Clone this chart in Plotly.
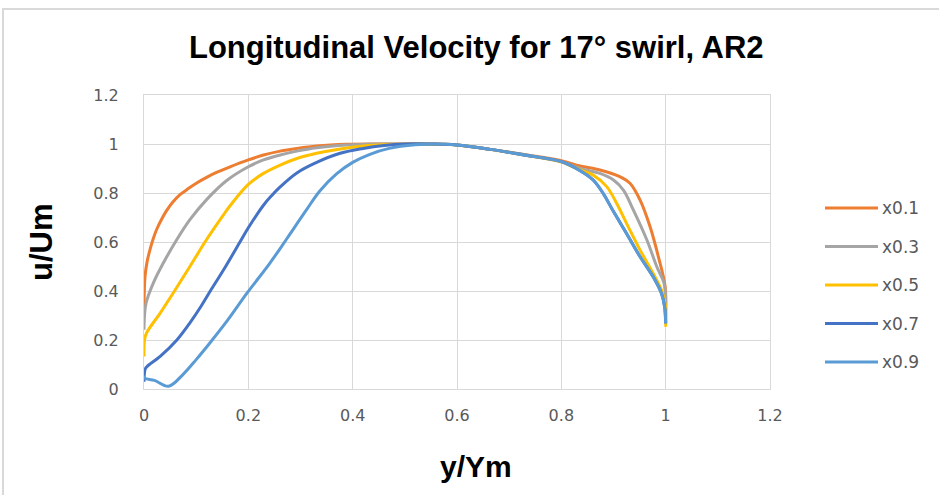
import plotly.graph_objects as go

# Velocity profiles across the duct at several stations
series_names = ["x0.1", "x0.3", "x0.5", "x0.7", "x0.9"]
series_colors = ["#ED7D31", "#A5A5A5", "#FFC000", "#4472C4", "#5B9BD5"]

x01_y = [0, 0.002, 0.006, 0.0115, 0.018, 0.024, 0.033, 0.043, 0.055, 0.069, 0.085,
         0.101, 0.12, 0.139, 0.165, 0.2, 0.229, 0.261, 0.293, 0.331, 0.389, 0.45, 0.5,
         0.55, 0.6, 0.664, 0.728, 0.8, 0.836, 0.874, 0.912, 0.932, 0.951, 0.97, 0.986,
         0.999, 1.0]
x01_u = [0.337, 0.46, 0.52, 0.569, 0.615, 0.65, 0.69, 0.727, 0.762, 0.793, 0.818,
         0.841, 0.864, 0.884, 0.907, 0.935, 0.955, 0.971, 0.982, 0.992, 0.999, 1.0, 1.0,
         1.0, 0.996, 0.978, 0.957, 0.932, 0.91, 0.894, 0.867, 0.839, 0.771, 0.663, 0.54,
         0.418, 0.32]

x03_y = [0, 0.001, 0.004, 0.018, 0.037, 0.063, 0.088, 0.12, 0.158, 0.2, 0.229, 0.261,
         0.293, 0.331, 0.389, 0.45, 0.5, 0.55, 0.6, 0.664, 0.728, 0.8, 0.836, 0.874,
         0.9, 0.919, 0.938, 0.964, 0.983, 0.997, 1.0]
x03_u = [0.242, 0.3, 0.351, 0.433, 0.514, 0.61, 0.691, 0.773, 0.85, 0.907, 0.935, 0.955,
         0.971, 0.985, 0.996, 1.0, 1.0, 1.0, 0.996, 0.978, 0.957, 0.928, 0.9, 0.88,
         0.853, 0.812, 0.731, 0.608, 0.499, 0.431, 0.34]

x05_y = [0, 0.001, 0.005, 0.031, 0.056, 0.088, 0.12, 0.152, 0.165, 0.2, 0.229, 0.261,
         0.293, 0.331, 0.376, 0.42, 0.47, 0.52, 0.6, 0.664, 0.728, 0.8, 0.836, 0.861,
         0.887, 0.906, 0.925, 0.951, 0.976, 0.992, 1.0, 1.0]
x05_u = [0.133, 0.2, 0.229, 0.31, 0.392, 0.5, 0.61, 0.71, 0.748, 0.835, 0.88, 0.914,
         0.941, 0.962, 0.98, 0.992, 0.998, 1.0, 0.996, 0.978, 0.955, 0.926, 0.894, 0.873,
         0.826, 0.758, 0.676, 0.567, 0.472, 0.404, 0.336, 0.254]

x07_y = [0, 0.002, 0.005, 0.031, 0.063, 0.088, 0.11, 0.13, 0.155, 0.184, 0.2, 0.229,
         0.245, 0.261, 0.293, 0.331, 0.376, 0.42, 0.46, 0.5, 0.55, 0.6, 0.664, 0.728,
         0.8, 0.836, 0.861, 0.88, 0.9, 0.925, 0.951, 0.976, 0.992, 0.998, 1.0]
x07_u = [0.03, 0.08, 0.09, 0.133, 0.2, 0.27, 0.34, 0.41, 0.495, 0.6, 0.658, 0.75,
         0.79, 0.825, 0.882, 0.925, 0.962, 0.982, 0.994, 1.0, 1.0, 0.996, 0.978, 0.955,
         0.928, 0.891, 0.853, 0.799, 0.724, 0.635, 0.54, 0.458, 0.39, 0.336, 0.268]

x09_y = [0, 0.001, 0.02, 0.047, 0.075, 0.1, 0.127, 0.16, 0.197, 0.24, 0.267, 0.28,
         0.312, 0.337, 0.369, 0.4, 0.433, 0.47, 0.52, 0.56, 0.6, 0.664, 0.728, 0.8,
         0.836, 0.861, 0.88, 0.9, 0.925, 0.951, 0.976, 0.992, 0.998, 1.0]
x09_u = [0.055, 0.045, 0.035, 0.011, 0.06, 0.12, 0.19, 0.28, 0.39, 0.51, 0.592, 0.633,
         0.733, 0.808, 0.878, 0.925, 0.958, 0.982, 0.997, 1.0, 0.996, 0.978, 0.955, 0.928,
         0.891, 0.853, 0.799, 0.724, 0.635, 0.54, 0.458, 0.39, 0.336, 0.268]

profiles_y = [x01_y, x03_y, x05_y, x07_y, x09_y]
profiles_u = [x01_u, x03_u, x05_u, x07_u, x09_u]

axis_ticks = [0, 0.2, 0.4, 0.6, 0.8, 1, 1.2]
axis_ticktext = ["0", "0.2", "0.4", "0.6", "0.8", "1", "1.2"]

# Figure geometry (pixels)
W, H = 939, 495
L, R, T, B = 144, 169, 95, 106
PW, PH = W - L - R, H - T - B


def px_x(px):
    return (px - L) / PW


def px_y(py):
    return (H - B - py) / PH


GRID = "#D9D9D9"
TEXT = "#595959"
BOLD_FONT = "Liberation Sans, Arial, sans-serif"
LABEL_FONT = "DejaVu Sans, Verdana, sans-serif"

fig = go.Figure()
for name, color, ys, us in zip(series_names, series_colors, profiles_y, profiles_u):
    fig.add_trace(go.Scatter(
        x=ys, y=us, name=name, mode="lines",
        line=dict(color=color, width=3, shape="spline", smoothing=1.0),
        showlegend=False,
    ))

axis_common = dict(
    range=[0, 1.2], tickvals=axis_ticks, ticktext=axis_ticktext,
    showgrid=True, gridcolor=GRID, gridwidth=1,
    zeroline=False, showline=True, linecolor=GRID, linewidth=1, mirror=True,
    ticks="outside", tickcolor="rgba(0,0,0,0)",
    tickfont=dict(family=LABEL_FONT, size=16, color=TEXT),
    fixedrange=True,
)
fig.update_xaxes(**axis_common, ticklen=12)
fig.update_yaxes(**axis_common, ticklen=21)

shapes = [
    # chart-area frame
    dict(type="rect", xref="paper", yref="paper",
         x0=px_x(3), x1=px_x(W + 20), y0=px_y(H + 20), y1=px_y(9),
         line=dict(color=GRID, width=2), fillcolor="rgba(0,0,0,0)", layer="below"),
]
annotations = [
    dict(text="<b>Longitudinal Velocity for 17° swirl, AR2</b>", xref="paper", yref="paper",
         x=px_x(476), y=px_y(48), xanchor="center", yanchor="middle", showarrow=False,
         font=dict(family=BOLD_FONT, size=31, color="#000000")),
    dict(text="<b>y/Ym</b>", xref="paper", yref="paper",
         x=px_x(476), y=px_y(466), xanchor="center", yanchor="middle", showarrow=False,
         font=dict(family=BOLD_FONT, size=30, color="#000000")),
    dict(text="<b>u/Um</b>", xref="paper", yref="paper", textangle=-90,
         x=px_x(41), y=px_y(242), xanchor="center", yanchor="middle", showarrow=False,
         font=dict(family=BOLD_FONT, size=31, color="#000000")),
]

# legend drawn as line samples with labels
for i, (name, color) in enumerate(zip(series_names, series_colors)):
    yy = px_y(208 + 38.5 * i)
    shapes.append(dict(type="line", xref="paper", yref="paper",
                       x0=px_x(825), x1=px_x(878), y0=yy, y1=yy,
                       line=dict(color=color, width=3)))
    annotations.append(dict(text=name, xref="paper", yref="paper",
                            x=px_x(880), y=yy, xanchor="left", yanchor="middle",
                            showarrow=False,
                            font=dict(family=LABEL_FONT, size=17, color=TEXT)))

fig.update_layout(
    width=W, height=H,
    margin=dict(l=L, r=R, t=T, b=B),
    paper_bgcolor="white", plot_bgcolor="white",
    shapes=shapes, annotations=annotations,
    showlegend=False,
)

fig.write_html("out.html")
